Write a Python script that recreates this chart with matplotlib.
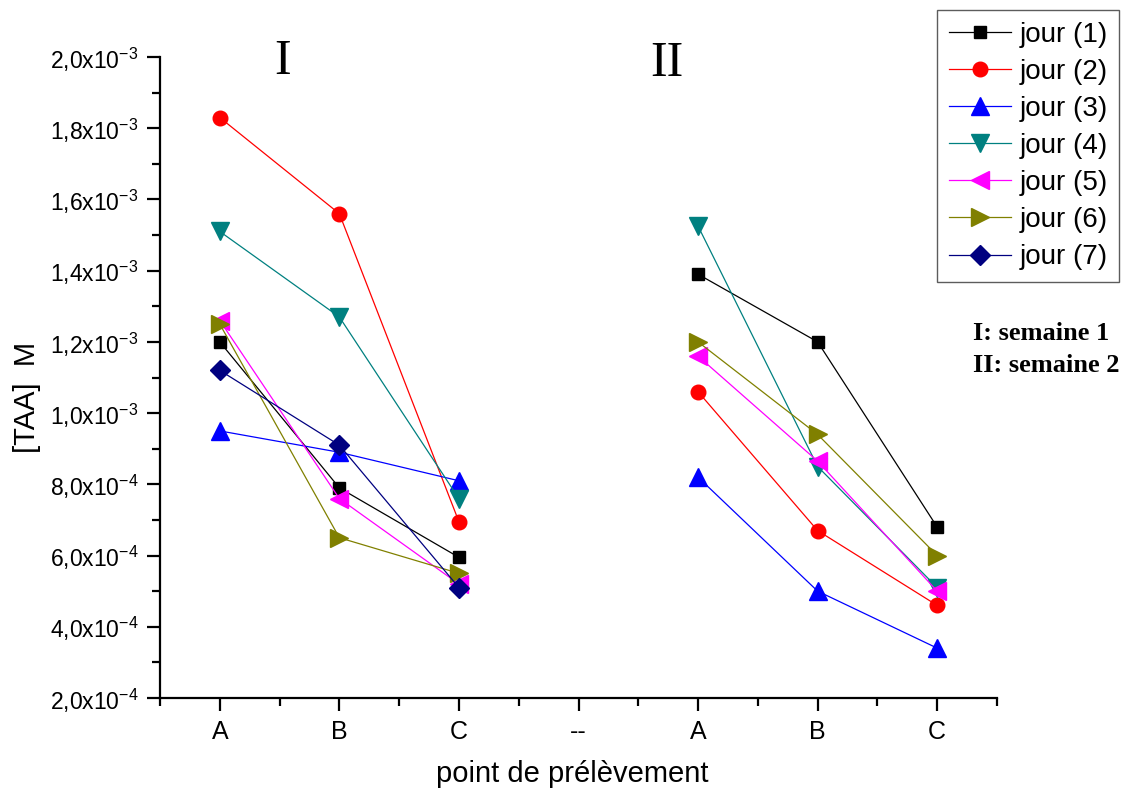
import matplotlib
matplotlib.use("Agg")
import matplotlib.pyplot as plt
from matplotlib.ticker import FixedLocator, FuncFormatter, MultipleLocator

plt.rcParams['font.family'] = ['Liberation Sans', 'DejaVu Sans']
plt.rcParams['mathtext.fontset'] = 'custom'
plt.rcParams['mathtext.rm'] = 'Liberation Sans'
plt.rcParams['mathtext.it'] = 'Liberation Sans:italic'
plt.rcParams['mathtext.bf'] = 'Liberation Sans:bold'

# x categories: week I (A,B,C), separator, week II (A,B,C)
x_labels = ['A', 'B', 'C', '--', 'A', 'B', 'C']
x_week1 = [1, 2, 3]
x_week2 = [5, 6, 7]

series_names = ['jour (1)', 'jour (2)', 'jour (3)', 'jour (4)', 'jour (5)', 'jour (6)', 'jour (7)']

# [TAA] in M (units of 1e-3)
week1 = {
    'jour (1)': [1.20, 0.79, 0.595],
    'jour (2)': [1.83, 1.56, 0.695],
    'jour (3)': [0.95, 0.89, 0.81],
    'jour (4)': [1.51, 1.27, 0.76],
    'jour (5)': [1.26, 0.76, 0.52],
    'jour (6)': [1.25, 0.65, 0.55],
    'jour (7)': [1.12, 0.91, 0.51],
}
week2 = {
    'jour (1)': [1.39, 1.20, 0.68],
    'jour (2)': [1.06, 0.67, 0.46],
    'jour (3)': [0.82, 0.50, 0.34],
    'jour (4)': [1.525, 0.85, 0.51],
    'jour (5)': [1.16, 0.865, 0.50],
    'jour (6)': [1.20, 0.94, 0.60],
    'jour (7)': [None, None, None],
}

colors = ['#000000', '#FF0000', '#0000FF', '#008080', '#FF00FF', '#808000', '#000080']
markers = ['s', 'o', '^', 'v', '<', '>', 'D']
msizes = [9, 10.5, 12.5, 12.5, 12.5, 12.5, 10]

fig = plt.figure(figsize=(11.35, 7.95), dpi=100)
ax = fig.add_axes([160/1135, 1 - 698/795, (997-160)/1135, (698-57)/795])

handles = []
for name, c, m, ms in zip(series_names, colors, markers, msizes):
    y1 = [v * 1e-3 for v in week1[name]]
    h, = ax.plot(x_week1, y1, color=c, marker=m, markersize=ms, lw=0.9,
                 markeredgecolor=c, label=name)
    if week2[name][0] is not None:
        y2 = [v * 1e-3 for v in week2[name]]
        ax.plot(x_week2, y2, color=c, marker=m, markersize=ms, lw=0.9,
                markeredgecolor=c)
    handles.append(h)

ax.set_xlim(0.5, 7.5)
ax.set_ylim(2e-4, 2e-3)
ax.xaxis.set_major_locator(FixedLocator(range(1, 8)))
ax.set_xticklabels(x_labels)
ax.xaxis.set_minor_locator(FixedLocator([0.5 + i for i in range(8)]))
ax.yaxis.set_major_locator(MultipleLocator(2e-4))
ax.yaxis.set_minor_locator(MultipleLocator(1e-4))

def yfmt(v, pos):
    if v >= 1e-3 - 1e-12:
        mant, exp = v / 1e-3, -3
    else:
        mant, exp = v / 1e-4, -4
    s = f"{mant:.1f}".replace('.', ',')
    return s + "x10$^{\\mathregular{" + str(exp) + "}}$"

ax.yaxis.set_major_formatter(FuncFormatter(yfmt))

for s in ['top', 'right']:
    ax.spines[s].set_visible(False)
for s in ['left', 'bottom']:
    ax.spines[s].set_linewidth(1.6)
ax.tick_params(which='major', direction='out', length=9.5, width=1.6, pad=6)
ax.tick_params(which='minor', direction='out', length=5.5, width=1.6)
ax.tick_params(axis='y', which='major', labelsize=16.5)
ax.tick_params(axis='x', which='major', labelsize=18, pad=6)

fig.text(572/1135, 1 - 782/795, 'point de prélèvement', fontsize=21,
         ha='center', va='baseline')
fig.text(27/1135, 1 - 397/795, '[TAA]  M', fontsize=21, rotation=90,
         ha='center', va='center')

fig.text(283/1135, 1 - 62/795, 'I', fontsize=36, family='Liberation Serif',
         ha='center', va='center')
fig.text(667/1135, 1 - 64/795, 'II', fontsize=36, family='Liberation Serif',
         ha='center', va='center')

fig.text(973/1135, 1 - 333/795, 'I: semaine 1', fontsize=19, family='Liberation Serif',
         weight='bold', ha='left', va='center')
fig.text(973/1135, 1 - 365/795, 'II: semaine 2', fontsize=19, family='Liberation Serif',
         weight='bold', ha='left', va='center')

leg = fig.legend(handles=handles, loc='upper left',
                 bbox_to_anchor=(937/1135, 1 - 10/795), fontsize=20,
                 frameon=True, fancybox=False, edgecolor='#333333',
                 handlelength=2.25, handletextpad=0.3, labelspacing=0.4,
                 borderpad=0.42, borderaxespad=0)
leg.get_frame().set_linewidth(1.0)

fig.savefig('out.png', dpi=100)
